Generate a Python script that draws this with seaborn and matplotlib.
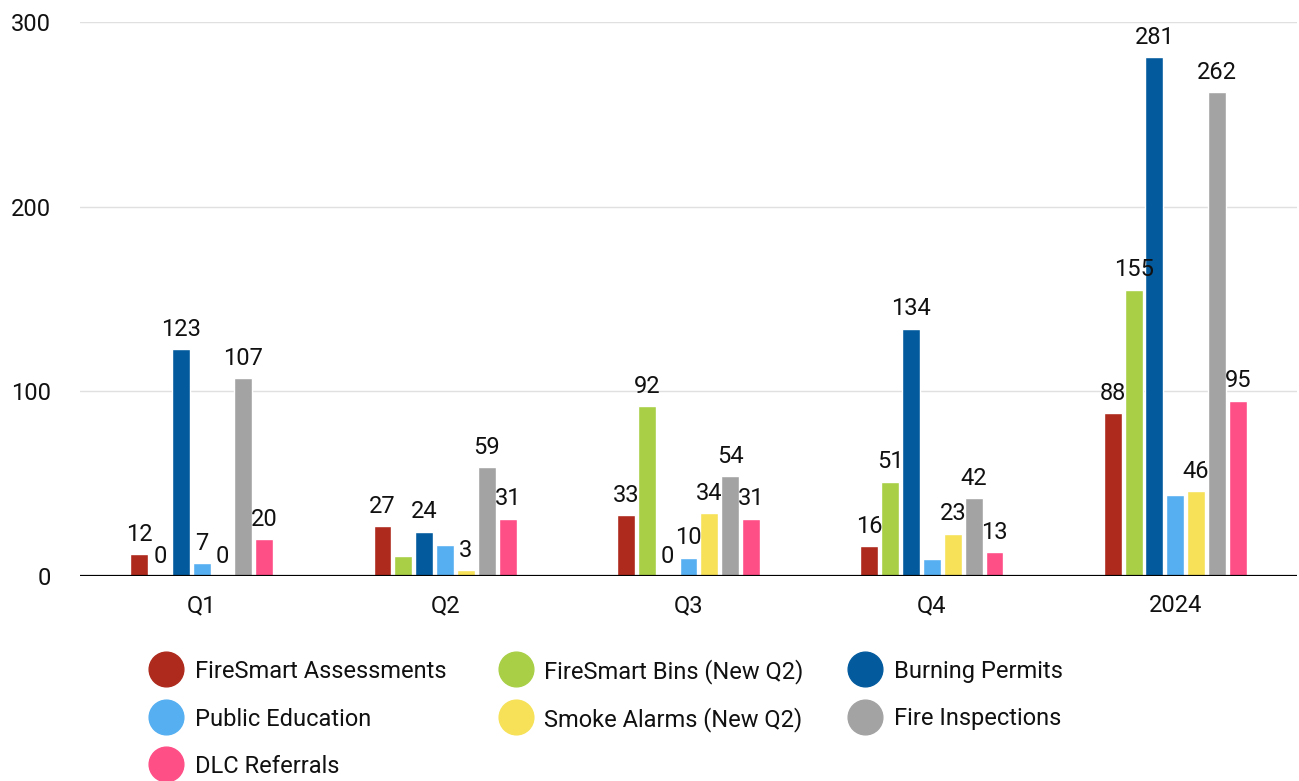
import pandas as pd
import numpy as np
import matplotlib.pyplot as plt
import seaborn as sns
from matplotlib.lines import Line2D

# data
periods = ['Q1', 'Q2', 'Q3', 'Q4', '2024']
series = ['FireSmart Assessments', 'FireSmart Bins (New Q2)', 'Burning Permits',
          'Public Education', 'Smoke Alarms (New Q2)', 'Fire Inspections', 'DLC Referrals']
assessments = [12, 27, 33, 16, 88]
bins = [0, 11, 92, 51, 155]
burning = [123, 24, 0, 134, 281]
education = [7, 17, 10, 9, 44]
smoke = [0, 3, 34, 23, 46]
inspections = [107, 59, 54, 42, 262]
dlc = [20, 31, 31, 13, 95]
# labels that the original chart does not show
hidden = {('FireSmart Bins (New Q2)', 'Q2'), ('Public Education', 'Q2'),
          ('Public Education', 'Q4'), ('Public Education', '2024')}
colors = ['#AE2A1C', '#A9CF46', '#035B9E', '#55AFF1', '#F6E158', '#A3A3A3', '#FE4F87']

values = [assessments, bins, burning, education, smoke, inspections, dlc]
df = pd.DataFrame([(p, s, v[i]) for s, v in zip(series, values) for i, p in enumerate(periods)],
                  columns=['period', 'series', 'value'])

sns.set_theme(style='white')
plt.rcParams['font.family'] = ['Roboto', 'DejaVu Sans']

W, H = 1299, 781
fig = plt.figure(figsize=(W / 100, H / 100), dpi=100)
ax = fig.add_axes([80 / W, 1 - 576 / H, 1217 / W, 554 / H])

sns.barplot(data=df, x='period', y='value', hue='series', hue_order=series,
            palette=colors, saturation=1, width=0.6, gap=0.14, order=periods,
            ax=ax, legend=False)

for s, cont in zip(series, ax.containers):
    v = df[df.series == s].set_index('period').loc[periods, 'value']
    labels = ['' if (s, p) in hidden else str(val) for p, val in zip(periods, v)]
    ax.bar_label(cont, labels=labels, padding=6, fontsize=17, color='#111111')

ax.set_ylim(0, 300)
ax.set_xlim(-0.5, 4.5)
ax.set_yticks([0, 100, 200, 300])
ax.yaxis.grid(True, color='#E0E0E0', linewidth=1)
ax.set_axisbelow(True)
ax.axhline(0, color='black', linewidth=1.6, zorder=5)
sns.despine(ax=ax, left=True, bottom=True)
ax.tick_params(axis='both', length=0, labelsize=17, colors='#111111')
ax.tick_params(axis='y', pad=21)
ax.tick_params(axis='x', pad=13)
ax.set_xlabel('')
ax.set_ylabel('')

# legend laid out in rows of three, like the original
for i, (name, c) in enumerate(zip(series, colors)):
    row, col = divmod(i, 3)
    mx = 166 + col * 349.5
    my = 669 + row * 47.5
    fig.add_artist(Line2D([mx / W], [1 - my / H], marker='o', linestyle='',
                          markersize=25, markerfacecolor=c, markeredgecolor=c,
                          transform=fig.transFigure))
    fig.text((mx + 29) / W, 1 - my / H, name, fontsize=17, color='#111111',
             va='center_baseline', ha='left')

plt.savefig('out.png', dpi=100)
